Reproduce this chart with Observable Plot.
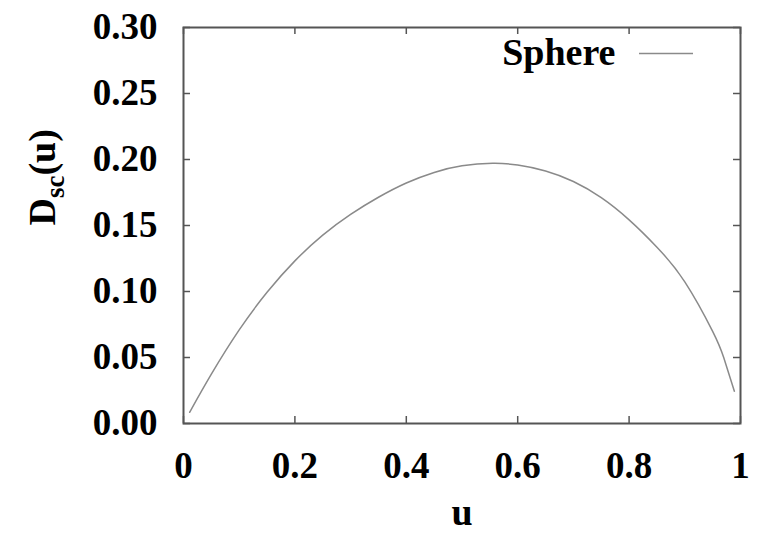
<!DOCTYPE html>
<html><head><meta charset="utf-8">
<script src="https://cdn.jsdelivr.net/npm/d3@7"></script>
<script src="https://cdn.jsdelivr.net/npm/@observablehq/plot@0.6"></script>
<style>body{margin:0;background:#fff}</style>
</head><body><div id="chart"></div>
<script>
const uValues = [0.011, 0.05, 0.10, 0.15, 0.20, 0.25, 0.30, 0.35, 0.40, 0.45, 0.50, 0.555, 0.60, 0.65, 0.70, 0.75, 0.80, 0.85, 0.90, 0.95, 0.97, 0.989];
const dValues = [0.0085, 0.0374, 0.0709, 0.0994, 0.1232, 0.1427, 0.1584, 0.1714, 0.1822, 0.1902, 0.1952, 0.1971, 0.1958, 0.1913, 0.1833, 0.1711, 0.1543, 0.1336, 0.1073, 0.0698, 0.0498, 0.0245];
const xTicks = [0, 0.2, 0.4, 0.6, 0.8, 1];
const xTickLabels = ["0", "0.2", "0.4", "0.6", "0.8", "1"];
const yTicks = [0, 0.05, 0.10, 0.15, 0.20, 0.25, 0.30];
const yTickLabels = ["0.00", "0.05", "0.10", "0.15", "0.20", "0.25", "0.30"];
const seriesName = "Sphere";
const xLabel = "u";
const yLabelMain = "D", yLabelSub = "sc", yLabelTail = "(u)";

const data = uValues.map((u, i) => ({u, d: dValues[i]}));
const W = 757, H = 533, mL = 183, mR = 17, mT = 27, mB = 110;
const plotH = H - mT - mB, plotW = W - mL - mR;
const tick = 7;
const lineColor = "#8a8a8a", frameColor = "#555";

const chart = Plot.plot({
  width: W, height: H,
  marginLeft: mL, marginRight: mR, marginTop: mT, marginBottom: mB,
  style: {fontFamily: "'Liberation Serif', 'Times New Roman', serif", fontSize: "37px", fontWeight: "bold", background: "#fff", color: "#000", overflow: "visible"},
  x: {domain: [0, 1]},
  y: {domain: [0, 0.3]},
  marks: [
    Plot.axisX(xTicks, {tickSize: 0, tickPadding: 28, tickFormat: d => xTickLabels[xTicks.indexOf(d)], label: null}),
    Plot.axisY(yTicks, {tickSize: 0, tickPadding: 26, tickFormat: d => yTickLabels[yTicks.indexOf(d)], label: null}),
    Plot.tickX(xTicks, {x: d => d, insetTop: plotH - tick, stroke: frameColor, strokeWidth: 1.5}),
    Plot.tickX(xTicks, {x: d => d, insetBottom: plotH - tick, stroke: frameColor, strokeWidth: 1.5}),
    Plot.tickY(yTicks, {y: d => d, insetRight: plotW - tick, stroke: frameColor, strokeWidth: 1.5}),
    Plot.tickY(yTicks, {y: d => d, insetLeft: plotW - tick, stroke: frameColor, strokeWidth: 1.5}),
    Plot.line(data, {x: "u", y: "d", curve: "natural", stroke: lineColor, strokeWidth: 1.5}),
    Plot.text([seriesName], {text: d => d, frameAnchor: "top-right", lineAnchor: "middle", dx: -125, dy: 25, textAnchor: "end", fontSize: 38}),
    Plot.ruleY([0.3], {y: d => d, dy: 26, insetLeft: 456, insetRight: 47, stroke: lineColor, strokeWidth: 1.5}),
    Plot.text([xLabel], {text: d => d, frameAnchor: "bottom", lineAnchor: "middle", dy: 89, fontSize: 38}),
    Plot.text([yLabelMain + yLabelSub + yLabelTail], {text: d => d, frameAnchor: "left", lineAnchor: "middle", dx: -141, rotate: -90, fontSize: 38}),
    Plot.frame({stroke: frameColor, strokeWidth: 2})
  ]
});
chart.querySelectorAll("text").forEach(t => {
  if (t.textContent === yLabelMain + yLabelSub + yLabelTail) {
    const ns = "http://www.w3.org/2000/svg";
    t.textContent = "";
    const a = document.createElementNS(ns, "tspan"); a.textContent = yLabelMain;
    const b = document.createElementNS(ns, "tspan"); b.textContent = yLabelSub;
    b.setAttribute("dy", "9"); b.setAttribute("font-size", "27");
    const c = document.createElementNS(ns, "tspan"); c.textContent = yLabelTail;
    c.setAttribute("dy", "-9");
    t.append(a, b, c);
  }
});
document.getElementById("chart").append(chart);
</script>
</body></html>
